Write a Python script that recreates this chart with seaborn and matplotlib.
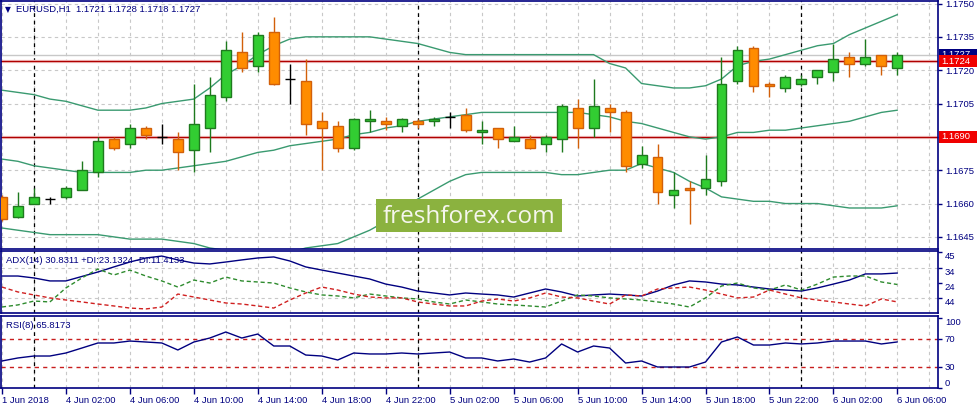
import numpy as np
import pandas as pd
import seaborn as sns
import matplotlib
matplotlib.use("Agg")
import matplotlib.pyplot as plt
from matplotlib.patches import Rectangle
import matplotlib.transforms as mtransforms

# ---------------- data ----------------
symbol_title = "EURUSD,H1  1.1721 1.1728 1.1718 1.1727"
adx_title = "ADX(14) 30.8311 +DI:23.1324 -DI:11.4133"
rsi_title = "RSI(8) 65.8173"
watermark = "freshforex.com"

time_labels = ["1 Jun 2018", "4 Jun 02:00", "4 Jun 06:00", "4 Jun 10:00", "4 Jun 14:00",
               "4 Jun 18:00", "4 Jun 22:00", "5 Jun 02:00", "5 Jun 06:00", "5 Jun 10:00",
               "5 Jun 14:00", "5 Jun 18:00", "5 Jun 22:00", "6 Jun 02:00", "6 Jun 06:00"]
label_step = 4            # one time label every 4 hourly bars
day_start_bars = [2, 26, 50]   # bars opening 4, 5 and 6 June

opens = [1.1663, 1.1654, 1.1660, 1.1662, 1.1663, 1.1666, 1.1674, 1.1689, 1.1687, 1.1694,
         1.1690, 1.1689, 1.1684, 1.1694, 1.1708, 1.1728, 1.1722, 1.1737, 1.1716, 1.1715,
         1.1697, 1.1695, 1.1685, 1.1697, 1.1697, 1.1695, 1.1697, 1.1697, 1.1699, 1.1700,
         1.1692, 1.1694, 1.1688, 1.1689, 1.1687, 1.1689, 1.1703, 1.1694, 1.1703, 1.1701,
         1.1678, 1.1681, 1.1664, 1.1667, 1.1667, 1.1670, 1.1715, 1.1730, 1.1714, 1.1712,
         1.1714, 1.1717, 1.1719, 1.1726, 1.1723, 1.1727, 1.1721]
highs = [1.1664, 1.1665, 1.1667, 1.1663, 1.1668, 1.1679, 1.1690, 1.1690, 1.1696, 1.1695,
         1.1696, 1.1692, 1.1714, 1.1717, 1.1733, 1.1737, 1.1737, 1.1744, 1.1723, 1.1725,
         1.1701, 1.1697, 1.16985, 1.1702, 1.1699, 1.16985, 1.1698, 1.1699, 1.1701, 1.1703,
         1.1697, 1.1694, 1.1695, 1.1691, 1.1691, 1.1705, 1.1707, 1.1716, 1.1705, 1.1702,
         1.1686, 1.1687, 1.1674, 1.1670, 1.1682, 1.1726, 1.1731, 1.1731, 1.17145, 1.1718,
         1.1718, 1.1720, 1.1732, 1.1728, 1.1734, 1.1727, 1.1728]
lows = [1.1652, 1.16535, 1.1660, 1.1660, 1.1662, 1.1666, 1.1672, 1.1684, 1.1685, 1.1689,
        1.1687, 1.1675, 1.1674, 1.1683, 1.1706, 1.1719, 1.1719, 1.17135, 1.1705, 1.1691,
        1.1675, 1.1683, 1.1684, 1.1692, 1.1693, 1.1692, 1.1694, 1.1695, 1.1694, 1.1692,
        1.1687, 1.1685, 1.1688, 1.16845, 1.1683, 1.1683, 1.1685, 1.1690, 1.1692, 1.1674,
        1.1676, 1.1660, 1.1658, 1.1651, 1.1664, 1.1668, 1.1714, 1.1710, 1.1708, 1.1710,
        1.1713, 1.1714, 1.1715, 1.1717, 1.1722, 1.1718, 1.1718]
closes = [1.1653, 1.1659, 1.1663, 1.1662, 1.1667, 1.1675, 1.1688, 1.1685, 1.1694, 1.1691,
          1.1690, 1.1683, 1.1696, 1.1709, 1.1729, 1.1721, 1.1736, 1.1714, 1.1716, 1.1696,
          1.1694, 1.1685, 1.1698, 1.1698, 1.1696, 1.1698, 1.1696, 1.1698, 1.1699, 1.1693,
          1.1693, 1.1689, 1.1690, 1.1685, 1.1690, 1.1704, 1.1694, 1.1704, 1.1701, 1.1677,
          1.1682, 1.1665, 1.1666, 1.1666, 1.1671, 1.1714, 1.1729, 1.1713, 1.1713, 1.1717,
          1.1716, 1.1720, 1.1725, 1.1723, 1.1726, 1.1722, 1.1727]

bb_upper = [1.1711, 1.1710, 1.1709, 1.1707, 1.1706, 1.1704, 1.1702, 1.1702, 1.1702, 1.1703,
            1.1705, 1.1706, 1.1707, 1.1712, 1.1718, 1.1722, 1.1727, 1.1731, 1.1734, 1.1735,
            1.1735, 1.1735, 1.1735, 1.1735, 1.1734, 1.1733, 1.1732, 1.1730, 1.1728, 1.1727,
            1.1727, 1.1727, 1.1727, 1.1727, 1.1727, 1.1727, 1.1727, 1.1727, 1.1723, 1.1721,
            1.1714, 1.1713, 1.1712, 1.1712, 1.1713, 1.1716, 1.1722, 1.1724, 1.1725, 1.1727,
            1.1729, 1.1731, 1.1732, 1.1736, 1.1739, 1.1742, 1.1745]
bb_mid = [1.1680, 1.1679, 1.1677, 1.1676, 1.1675, 1.1674, 1.1674, 1.1674, 1.1674, 1.1675,
          1.1675, 1.1676, 1.1677, 1.1678, 1.1679, 1.1681, 1.1683, 1.1684, 1.1686, 1.1687,
          1.1688, 1.1689, 1.1691, 1.1692, 1.1694, 1.1695, 1.1697, 1.1698, 1.1699, 1.1700,
          1.1701, 1.1701, 1.1701, 1.1701, 1.1701, 1.1701, 1.1701, 1.1700, 1.1699, 1.1697,
          1.1696, 1.1694, 1.1692, 1.1690, 1.1689, 1.1690, 1.1692, 1.1692, 1.1693, 1.1693,
          1.1694, 1.1695, 1.1696, 1.1697, 1.1699, 1.1701, 1.1702]
bb_lower = [1.1649, 1.1648, 1.1647, 1.1646, 1.1646, 1.1646, 1.1646, 1.1645, 1.1644, 1.1644,
            1.1644, 1.1643, 1.1642, 1.1640, 1.1639, 1.1637, 1.1636, 1.1636, 1.1638, 1.1640,
            1.1641, 1.1642, 1.1645, 1.1648, 1.1652, 1.1657, 1.1662, 1.1666, 1.1670, 1.1673,
            1.1674, 1.1674, 1.1674, 1.1674, 1.1674, 1.1673, 1.1673, 1.1674, 1.1675, 1.1675,
            1.1678, 1.1676, 1.1674, 1.1670, 1.1667, 1.1663, 1.1662, 1.1661, 1.1661, 1.1660,
            1.1660, 1.1660, 1.1659, 1.1658, 1.1658, 1.1658, 1.1659]

adx = [28.8, 28.8, 27.5, 25.5, 25.5, 28.5, 31.5, 34.9, 38.2, 40.9,
       42.2, 39.6, 37.5, 36.9, 38.2, 39.6, 40.9, 41.6, 38.9, 34.9,
       32.8, 30.8, 28.8, 26.8, 23.4, 21.4, 18.7, 17.4, 16.1, 17.4,
       16.7, 16.1, 14.7, 17.4, 20.1, 18.1, 15.4, 16.1, 16.7, 16.1,
       15.4, 18.7, 22.8, 25.5, 24.8, 23.4, 22.8, 21.4, 20.1, 19.4,
       18.7, 20.8, 23.4, 26.1, 30.2, 30.2, 30.8]
plus_di = [8.0, 9.4, 12.0, 11.4, 20.8, 27.5, 33.5, 29.5, 32.8, 28.8,
           25.5, 21.4, 26.1, 24.1, 28.1, 25.5, 24.8, 24.1, 20.8, 18.1,
           16.1, 15.4, 14.1, 16.7, 15.4, 14.1, 13.4, 11.4, 10.0, 12.7,
           11.4, 10.0, 9.4, 8.7, 8.0, 12.0, 16.1, 15.4, 14.1, 13.4,
           12.7, 11.4, 10.0, 8.0, 14.1, 22.1, 24.1, 20.8, 19.4, 22.8,
           19.4, 23.4, 28.1, 28.8, 28.8, 24.8, 23.1]
minus_di = [21.4, 18.1, 16.1, 14.1, 12.7, 11.4, 10.0, 8.7, 7.3, 6.7,
            8.0, 16.7, 14.7, 12.7, 10.7, 10.0, 8.7, 7.3, 12.7, 17.4,
            21.4, 19.4, 16.7, 14.7, 14.1, 14.1, 11.4, 10.0, 8.7, 8.7,
            12.0, 13.4, 12.0, 14.1, 17.4, 14.7, 14.1, 12.0, 10.0, 16.1,
            15.4, 20.1, 20.8, 21.4, 19.4, 16.7, 14.1, 14.7, 19.4, 16.7,
            14.1, 12.7, 11.4, 10.0, 8.7, 13.4, 11.4]
rsi = [38.6, 42.9, 45.7, 45.7, 50.0, 57.1, 64.3, 64.3, 67.1, 65.7,
       64.3, 54.3, 65.7, 71.4, 80.0, 71.4, 77.1, 60.0, 60.0, 47.1,
       45.7, 40.0, 50.0, 48.6, 48.6, 50.0, 48.6, 50.0, 51.4, 42.9,
       42.9, 38.6, 41.4, 37.1, 42.9, 62.9, 51.4, 60.0, 57.1, 35.7,
       38.6, 30.0, 30.0, 30.0, 37.1, 65.7, 72.9, 61.4, 61.4, 64.3,
       62.9, 64.3, 67.1, 67.1, 67.1, 62.9, 65.8]

level_lines = [1.1724, 1.1690]
bid_price = 1.1727
price_ticks = [1.1750, 1.1735, 1.1720, 1.1705, 1.1690, 1.1675, 1.1660, 1.1645]
adx_ticks = [45, 34, 24, 14]
adx_tick_labels = ["45", "34", "24", "44"]
rsi_ticks = [100, 70, 30, 0]
rsi_levels = [70, 30]

# ---------------- style ----------------
sns.set_theme(style="white")
plt.rcParams["font.family"] = ["Liberation Sans", "DejaVu Sans"]
NAVY = "#000080"
GRID = "#C8C8C8"
BB = "#3A9A70"
FS = 6.8

W, H = 977, 407
fig = plt.figure(figsize=(W / 100, H / 100), dpi=100)
fig.patch.set_facecolor("white")


def px_axes(x0, y0, x1, y1):
    return fig.add_axes([x0 / W, 1 - y1 / H, (x1 - x0) / W, (y1 - y0) / H])


ax = px_axes(0.5, 0.5, 938, 249)
ax_adx = px_axes(0.5, 251, 938, 313)
ax_rsi = px_axes(0.5, 316, 938, 388)

n = len(closes)
xs = np.arange(n)
df = pd.DataFrame({"bar": xs, "upper": bb_upper, "mid": bb_mid, "lower": bb_lower,
                   "adx": adx, "pdi": plus_di, "mdi": minus_di, "rsi": rsi})

XLIM = (-0.09, 58.54)
for a in (ax, ax_adx, ax_rsi):
    a.set_facecolor("white")
    a.set_xlim(*XLIM)
    for s in a.spines.values():
        s.set_color(NAVY)
        s.set_linewidth(1.2)
    for gx in range(0, 59, 2):
        a.axvline(gx, color=GRID, lw=0.8, ls=(0, (3, 3)), zorder=0.3)
    for d in day_start_bars:
        a.axvline(d, color="black", lw=0.9, ls=(0, (3, 3)), zorder=0.6)

# ---------------- main price panel ----------------
ax.set_ylim(1.163955, 1.175135)
for p in price_ticks:
    ax.axhline(p, color=GRID, lw=0.8, ls=(0, (3, 3)), zorder=0.3)
ax.axhline(bid_price, color="#C8C8C8", lw=1.0, zorder=0.8)
for lv in level_lines:
    ax.axhline(lv, color="#F6D2D2", lw=2.4, zorder=0.9)
    ax.axhline(lv, color="#B00000", lw=1.0, zorder=1.0)

sns.lineplot(data=df, x="bar", y="upper", ax=ax, color=BB, lw=1, zorder=1.2, legend=False)
sns.lineplot(data=df, x="bar", y="mid", ax=ax, color=BB, lw=1, zorder=1.2, legend=False)
sns.lineplot(data=df, x="bar", y="lower", ax=ax, color=BB, lw=1, zorder=1.2, legend=False)

BODY_W = 0.62
for i in range(n):
    o, h, l, c = opens[i], highs[i], lows[i], closes[i]
    if c > o:
        fill, edge = "#32CD32", "#1E7A1E"
    elif c < o:
        fill, edge = "#FF8C00", "#D2600A"
    else:
        fill, edge = None, "black"
    ax.vlines(xs[i], l, h, color=edge, lw=1.0, zorder=2)
    if fill is None:
        ax.hlines(o, xs[i] - BODY_W / 2, xs[i] + BODY_W / 2, color="black", lw=1.0, zorder=3)
    else:
        ax.bar(xs[i], abs(c - o), bottom=min(o, c), width=BODY_W, color=fill,
               edgecolor=edge, linewidth=1.0, zorder=3)

# tick labels hidden behind the price boxes are left blank
covered = {f"{lv:.4f}" for lv in level_lines}
ax.yaxis.tick_right()
ax.set_yticks(price_ticks)
ax.set_yticklabels([("" if f"{p:.4f}" in covered else f"{p:.4f}") for p in price_ticks])
ax.tick_params(axis="y", colors=NAVY, labelsize=FS, length=3, width=1, pad=2, right=True, left=False)
ax.set_xticks([])
ax.set_xlabel("")
ax.set_ylabel("")

# price boxes on the right scale
ppx = (1.175135 - 1.163955) / 249.0
trans = mtransforms.blended_transform_factory(fig.transFigure, ax.transData)
# current bid box (partly hidden by the level box below it)
bid_box = Rectangle((939 / W, bid_price - 1 * ppx), 38 / W, 7 * ppx, transform=trans,
                    facecolor=NAVY, edgecolor="none", clip_on=False, zorder=20)
ax.add_patch(bid_box)
bid_txt = ax.text(941 / W, bid_price + 0.5 * ppx, f"{bid_price:.4f}", transform=trans,
                  color="white", fontsize=FS, ha="left", va="center", clip_on=True, zorder=21)
bid_txt.set_clip_path(bid_box)
for price in level_lines:
    ax.add_patch(Rectangle((939 / W, price - 6 * ppx), 38 / W, 12 * ppx, transform=trans,
                           facecolor="#F00000", edgecolor="none", clip_on=False, zorder=22))
    ax.text(941 / W, price, f"{price:.4f}", transform=trans, color="white", fontsize=FS,
            ha="left", va="center", clip_on=False, zorder=23)

# ---------------- ADX panel ----------------
ax_adx.set_ylim(3.98, 45.59)
for t in (34, 14):
    ax_adx.axhline(t, color=GRID, lw=0.8, ls=(0, (3, 3)), zorder=0.3)
sns.lineplot(data=df, x="bar", y="adx", ax=ax_adx, color=NAVY, lw=1, zorder=2, legend=False)
sns.lineplot(data=df, x="bar", y="pdi", ax=ax_adx, color="#2E8B2E", lw=1,
             linestyle=(0, (3, 2)), zorder=2, legend=False)
sns.lineplot(data=df, x="bar", y="mdi", ax=ax_adx, color="#D02020", lw=1,
             linestyle=(0, (3, 2)), zorder=2, legend=False)
ax_adx.yaxis.tick_right()
ax_adx.set_yticks(adx_ticks)
ax_adx.set_yticklabels(adx_tick_labels)
for lab in ax_adx.get_yticklabels():
    lab.set_verticalalignment("top")
ax_adx.tick_params(axis="y", colors=NAVY, labelsize=FS, length=3, width=1, pad=2, right=True, left=False)
ax_adx.set_xticks([])
ax_adx.set_xlabel("")
ax_adx.set_ylabel("")

# ---------------- RSI panel ----------------
ax_rsi.set_ylim(0, 102.86)
for lv in rsi_levels:
    ax_rsi.axhline(lv, color="#C81E1E", lw=1, ls=(0, (3, 3)), zorder=1)
sns.lineplot(data=df, x="bar", y="rsi", ax=ax_rsi, color=NAVY, lw=1, zorder=2, legend=False)
ax_rsi.yaxis.tick_right()
ax_rsi.set_yticks(rsi_ticks)
ax_rsi.set_yticklabels([str(t) for t in rsi_ticks])
for lab, va in zip(ax_rsi.get_yticklabels(), ["top", "center", "center", "bottom"]):
    lab.set_verticalalignment(va)
ax_rsi.tick_params(axis="y", colors=NAVY, labelsize=FS, length=3, width=1, pad=2, right=True, left=False)
tick_pos = list(range(0, n, label_step))
ax_rsi.set_xticks(tick_pos)
ax_rsi.set_xticklabels(time_labels)
for lab in ax_rsi.get_xticklabels():
    lab.set_horizontalalignment("left")
ax_rsi.tick_params(axis="x", colors=NAVY, labelsize=FS, length=4, width=1, pad=2, bottom=True)
ax_rsi.set_xlabel("")
ax_rsi.set_ylabel("")

# ---------------- texts ----------------
fig.text(5 / W, 1 - 9.5 / H, "\u25BC", fontsize=5.5, color=NAVY, ha="left", va="center",
         family=["DejaVu Sans"])
fig.text(16 / W, 1 - 9 / H, symbol_title, fontsize=FS, color=NAVY, ha="left", va="center")
fig.text(6 / W, 1 - 260.5 / H, adx_title, fontsize=FS, color=NAVY, ha="left", va="center")
fig.text(6 / W, 1 - 325 / H, rsi_title, fontsize=FS, color=NAVY, ha="left", va="center")

fig.add_artist(Rectangle((376 / W, 1 - 232 / H), 186 / W, 33 / H, transform=fig.transFigure,
                         facecolor="#8BB23F", edgecolor="none", zorder=10))
fig.text(469 / W, 1 - 223.5 / H, watermark, fontsize=17.5, color="#F6F6EE", ha="center",
         va="baseline", family=["Open Sans", "DejaVu Sans"], zorder=11)

fig.savefig("out.png", dpi=100, facecolor="white")
